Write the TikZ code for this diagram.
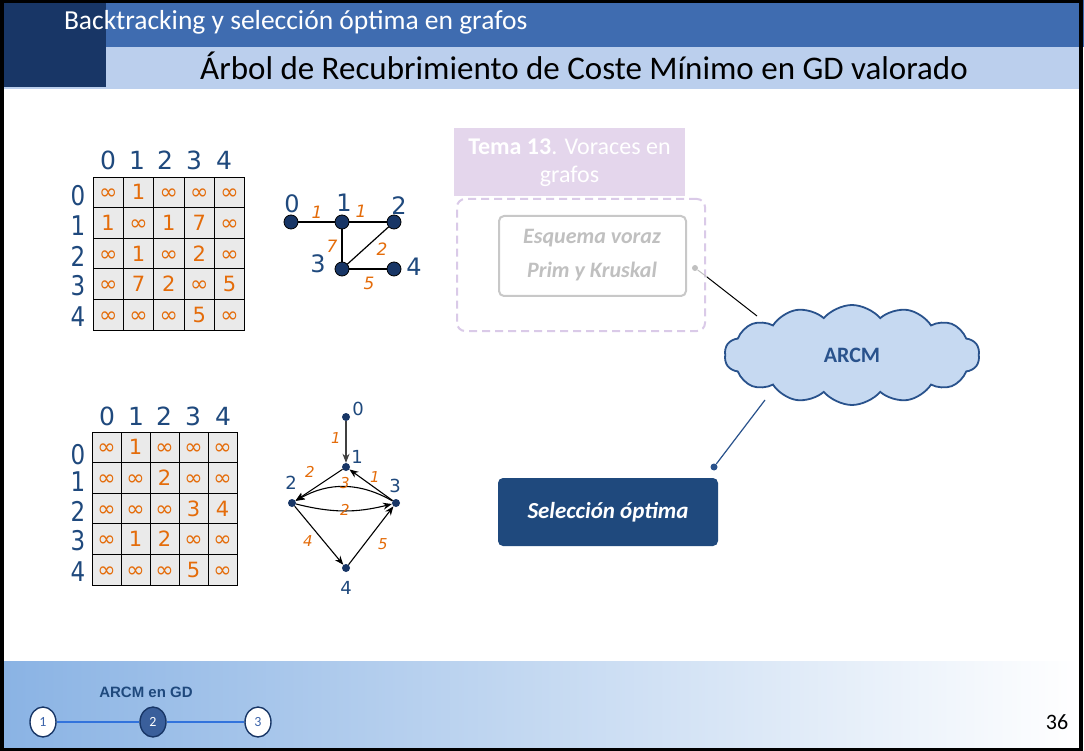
\documentclass[tikz,border=0pt]{standalone}
\usepackage{fontspec}
\setmainfont{Carlito}
\newfontfamily\dejavu{DejaVu Sans}
\newfontfamily\arialf{Liberation Sans}
\usetikzlibrary{shapes.geometric,shapes.symbols,arrows.meta}
\newcommand\fsz[1]{\fontsize{#1}{#1}\selectfont}
\newcommand\inff{{\vphantom{1}\smash{\fsz{22}∞}}}
\definecolor{navy}{RGB}{24,54,102}
\definecolor{headblue}{RGB}{63,108,176}
\definecolor{lightbar}{RGB}{187,207,237}
\definecolor{orng}{RGB}{228,108,10}
\definecolor{lblue}{RGB}{31,73,125}
\definecolor{cellgray}{RGB}{234,234,234}
\definecolor{purfill}{RGB}{228,214,236}
\definecolor{purdash}{RGB}{218,202,232}
\definecolor{boxgray}{RGB}{200,200,200}
\definecolor{txtgray}{RGB}{192,192,192}
\definecolor{cloudfill}{RGB}{198,217,241}
\definecolor{cloudline}{RGB}{41,82,140}
\definecolor{selblue}{RGB}{31,73,125}
\definecolor{footL}{RGB}{138,179,228}
\definecolor{stepline}{RGB}{50,115,220}
\definecolor{stepfill}{RGB}{58,95,155}
\definecolor{stepnum}{RGB}{60,100,170}
\tikzset{
  txt/.style={inner sep=0pt, outer sep=0pt},
  cella/.style={draw=black, line width=0.8pt, fill=cellgray, minimum width=30.35pt, minimum height=30.6pt, inner sep=0pt, text=orng, font=\dejavu\fsz{21}},
  cellb/.style={cella, minimum width=29pt},
  hdrlab/.style={txt, text=lblue, font=\dejavu\fsz{25}},
  rowlab/.style={txt, text=lblue, font=\dejavu\fsz{23}, yscale=1.18},
  gnode/.style={circle, draw=black, line width=0.8pt, fill=navy, minimum size=14pt, inner sep=0pt},
  gnodeb/.style={circle, fill=navy, minimum size=8pt, inner sep=0pt},
  glab/.style={txt, text=lblue, font=\dejavu\fsz{24}},
  glabb/.style={txt, text=lblue, font=\dejavu\fsz{18}},
  wlab/.style={txt, text=orng, font=\dejavu\itshape\fsz{17}},
  wlabb/.style={txt, text=orng, font=\dejavu\itshape\fsz{15}},
  gedge/.style={line width=1.2pt, black},
  aedge/.style={line width=1.1pt, black, -{Stealth[length=9pt,width=7pt]}},
  stepc/.style={ellipse, draw=navy, line width=1.4pt, fill=white, minimum width=26pt, minimum height=30pt, inner sep=0pt, text=stepnum, font=\fsz{14}}
}
\begin{document}
\begin{tikzpicture}[x=1pt,y=-1pt]
\useasboundingbox (0,0) rectangle (1084,751);
\fill[white] (0,0) rectangle (1084,751);
% header
\fill[lightbar] (3,47) rectangle (1081,89);
\fill[headblue] (49,0) rectangle (1084,47);
\fill[navy] (3,3) rectangle (106,87);
% footer
\shade[left color=footL, right color=white] (3,661) rectangle (1080,747);
% frame
\draw[black, line width=3.5pt] (1.75,1.75) rectangle (1081,749.25);
\node[txt, anchor=west, text=white, font=\fsz{27.5}] (hdr) at (64,22) {Backtracking y selección óptima en grafos};
\node[txt, font=\fsz{33}] (title) at (584,66) {Árbol de Recubrimiento de Coste Mínimo en GD valorado};

% matrix 1
\foreach \row [count=\r from 0] in {{\inff,1,\inff,\inff,\inff},{1,\inff,1,7,\inff},{\inff,1,\inff,2,\inff},{\inff,7,2,\inff,5},{\inff,\inff,\inff,5,\inff}}{
  \foreach \v [count=\c from 0] in \row {
    \node[cella] (ma-\r-\c) at ({93+30.35*\c+15.17},{177+30.6*\r+15.3}) {\v};
  }
}
\foreach \x/\n in {108/0,137/1,165/2,194/3,224/4} \node[hdrlab] (ca-\n) at (\x,160) {\n};
\foreach \y/\n in {196/0,226/1,256/2,286/3,317/4} \node[rowlab] (ra-\n) at (78,\y) {\n};

% matrix 2
\foreach \row [count=\r from 0] in {{\inff,1,\inff,\inff,\inff},{\inff,\inff,2,\inff,\inff},{\inff,\inff,\inff,3,4},{\inff,1,2,\inff,\inff},{\inff,\inff,\inff,5,\inff}}{
  \foreach \v [count=\c from 0] in \row {
    \node[cellb] (mb-\r-\c) at ({92+29*\c+14.5},{432+30.6*\r+15.3}) {\v};
  }
}
\foreach \x/\n in {107/0,136/1,164/2,193/3,223/4} \node[hdrlab] (cb-\n) at (\x,416) {\n};
\foreach \y/\n in {455/0,482/1,511/2,541/3,572/4} \node[rowlab] (rb-\n) at (78,\y) {\n};

% graph 1
\node[gnode] (a0) at (291,222) {};
\node[gnode] (a1) at (342,222) {};
\node[gnode] (a2) at (394,222) {};
\node[gnode] (a3) at (342,269) {};
\node[gnode] (a4) at (394,269) {};
\draw[gedge] (a0) -- (a1);
\draw[gedge] (a1) -- (a2);
\draw[gedge] (a1) -- (a3);
\draw[gedge] (a3) -- (a2);
\draw[gedge] (a3) -- (a4);
\node[glab] (la0) at (292,204) {0};
\node[glab] (la1) at (344,203) {1};
\node[glab] (la2) at (399,206) {2};
\node[glab] (la3) at (318,264) {3};
\node[glab] (la4) at (414,267) {4};
\node[wlab] (wa1) at (317,212) {1};
\node[wlab] (wa2) at (361,211) {1};
\node[wlab] (wa3) at (332,246) {7};
\node[wlab] (wa4) at (382,249) {2};
\node[wlab] (wa5) at (369,283) {5};

% graph 2
\node[gnodeb] (b0) at (346,417) {};
\node[gnodeb] (b1) at (346,467) {};
\node[gnodeb] (b2) at (292,503) {};
\node[gnodeb] (b3) at (396,503) {};
\node[gnodeb] (b4) at (346,568) {};
\draw[aedge, draw=black!75] (b0) -- (b1);
\draw[aedge] (b1) -- (b2);
\draw[aedge] (b3) -- (b1);
\draw[aedge] (b2) to[bend right=14] (b3);
\draw[aedge] (b3) to[bend right=30] (b2);
\draw[aedge] (b2) -- (b4);
\draw[aedge] (b4) -- (b3);
\node[glabb] (lb0) at (358,409) {0};
\node[glabb] (lb1) at (357,457) {1};
\node[glabb] (lb2) at (291,483) {2};
\node[glabb] (lb3) at (395,486) {3};
\node[glabb] (lb4) at (346,588) {4};
\node[wlabb] (wb1) at (336,438) {1};
\node[wlabb] (wb2) at (310,472) {2};
\node[wlabb] (wb3) at (345,483) {3};
\node[wlabb] (wb4) at (375,477) {1};
\node[wlabb] (wb5) at (345,510) {2};
\node[wlabb] (wb6) at (308,541) {4};
\node[wlabb] (wb7) at (383,544) {5};

% Tema 13 group
\node[fill=purfill, minimum width=231pt, minimum height=68pt, inner sep=0pt] (tema) at (569.5,162) {};
\node[txt, text=white, font=\fsz{24}] (tema1) at (569.5,147) {\textbf{Tema 13}. Voraces en};
\node[txt, text=white, font=\fsz{24}] (tema2) at (569.5,176) {grafos};
\node[draw=purdash, line width=2pt, dash pattern=on 8pt off 5pt, rounded corners=8pt, minimum width=248pt, minimum height=132pt, inner sep=0pt] (grp) at (581,265) {};
\node[draw=boxgray, line width=2pt, rounded corners=5pt, minimum width=187pt, minimum height=80pt, inner sep=0pt] (esq) at (592.5,256) {};
\node[txt, text=txtgray, font=\bfseries\itshape\fsz{22}] (esq1) at (592,238) {Esquema voraz};
\node[txt, text=txtgray, font=\bfseries\itshape\fsz{22}] (esq2) at (592,272) {Prim y Kruskal};

% cloud
\node[cloud, cloud puffs=14, cloud puff arc=100, aspect=2.6, draw=cloudline, fill=cloudfill, line width=1.8pt, minimum width=255pt, minimum height=100pt, inner sep=0pt, text=cloudline, font=\bfseries\fsz{22}] (arcm) at (852,355) {ARCM};

% connectors
\node[circle, fill=txtgray, minimum size=6pt, inner sep=0pt] (dA) at (695,268) {};
\coordinate (kA) at (707,277);
\coordinate (kB) at (757,316);
\draw[txtgray, line width=1pt] (dA) -- (kA);
\draw[black, line width=1pt] (kA) -- (kB);
\coordinate (kC) at (765,400);
\node[circle, fill=cloudline, minimum size=7pt, inner sep=0pt] (dB) at (714,467) {};
\draw[cloudline, line width=1.2pt] (kC) -- (dB);

% seleccion optima
\node[fill=selblue, rounded corners=5pt, minimum width=220pt, minimum height=68pt, inner sep=0pt, text=white, font=\bfseries\itshape\fsz{23}] (sel) at (608,512) {Selección óptima};

% footer
\node[txt, text=lblue, font=\arialf\bfseries\fsz{15}] (arcmgd) at (146,692) {ARCM en GD};
\node[stepc] (s1) at (43,722) {1};
\node[stepc, fill=stepfill, text=white] (s2) at (153,722) {2};
\node[stepc] (s3) at (258,722) {3};
\draw[stepline, line width=2pt] (s1) -- (s2);
\draw[stepline, line width=2pt] (s2) -- (s3);
\node[txt, font=\fsz{22}] (pg) at (1057,722) {36};
\end{tikzpicture}
\end{document}
